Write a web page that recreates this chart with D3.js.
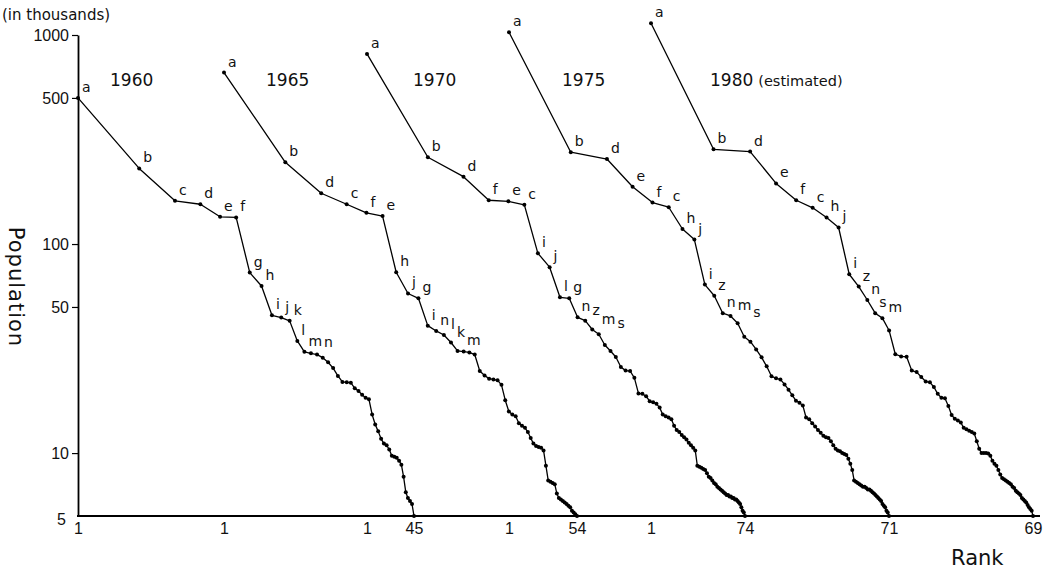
<!DOCTYPE html>
<html lang="en">
<head>
<meta charset="UTF-8">
<title>Rank-size distribution</title>
<style>
  body { margin: 0; background: #fff; }
  svg { font-family: "DejaVu Sans", sans-serif; }
</style>
</head>
<body>
<svg width="1051" height="570"></svg>
<script src="https://d3js.org/d3.v7.min.js"></script>
<script>
// data: population (thousands) by rank, one array per year
const years = ['1960', '1965', '1970', '1975', '1980'];
const counts = [45, 54, 74, 71, 69];

const letters1960 = ['a','b','c','d','e','f','g','h','i','j','k','l','m','n'];
const letters1965 = ['a','b','d','c','f','e','h','j','g','i','n','l','k','m'];
const letters1970 = ['a','b','d','f','e','c','i','j','l','g','n','z','m','s'];
const letters1975 = ['a','b','d','e','f','c','h','j','i','z','n','m','s'];
const letters1980 = ['a','b','d','e','f','c','h','j','i','z','n','s','m'];

const pop1960 = [500, 230, 161, 155, 135, 134, 73, 63, 45.6, 44.5, 42.9, 34.4, 30.5, 30.0,
  29.6, 28.6, 27.2, 25.5, 23.4, 21.9, 21.8, 21.7, 20.4, 19.8, 19.0, 18.4, 18.1, 15.3, 13.7,
  12.7, 11.7, 11.1, 10.9, 10.4, 9.7, 9.6, 9.5, 9.2, 8.8, 7.7, 6.5, 6.1, 5.9, 5.7, 5.0];
const pop1965 = [661, 246, 175, 155, 141, 136, 73.3, 58, 55, 40.7, 38.4, 36.7, 33.8, 30.8,
  30.6, 30.3, 29.6, 24.7, 23.5, 22.7, 22.5, 22.3, 21.2, 17.9,
  15.8, 15.3, 15.0, 13.9, 13.5, 13.2, 12.6, 11.8, 11.1, 10.8,
  10.7, 10.6, 10.3, 8.7, 7.4, 7.3, 7.2, 7.1, 6.4, 6.1,
  6.0, 5.9, 5.8, 5.7, 5.6, 5.5, 5.3, 5.2, 5.1, 5.0];
const pop1970 = [812, 260, 210, 162, 160, 154, 90.3, 77.5, 55.6, 55, 44.6, 43, 39, 37,
  32.9, 30.8, 28.8, 25.8, 24.8, 24.7, 22.9, 19.3, 19.2, 18.7,
  17.7, 17.5, 17.2, 16.5, 15.3, 15.0, 14.8, 14.5, 13.5, 12.9,
  12.6, 12.2, 11.9, 11.6, 11.2, 10.9, 10.6, 10.3, 8.7, 8.6,
  8.5, 8.4, 8.3, 8.0, 7.7, 7.6, 7.4, 7.2, 7.1, 6.9,
  6.8, 6.7, 6.6, 6.5, 6.4, 6.3, 6.3, 6.2, 6.2, 6.1,
  6.1, 6.0, 6.0, 5.9, 5.8, 5.7, 5.5, 5.3, 5.2, 5.0];
const pop1975 = [1031, 275, 255, 188, 158, 150, 118, 105, 64, 56.6, 46.7, 45.3, 41.8, 36,
  34.1, 31.3, 28.7, 26.0, 23.3, 22.8, 22.5, 21.3, 20.1, 18.9,
  17.8, 17.4, 16.9, 14.8, 14.5, 13.9, 13.4, 12.9, 12.5, 12.1,
  11.9, 11.8, 11.4, 10.9, 10.5, 10.3, 10.2, 10.0, 9.9, 9.8,
  9.4, 8.9, 8.3, 7.4, 7.3, 7.2, 7.1, 7.0, 6.9, 6.9,
  6.8, 6.7, 6.7, 6.6, 6.5, 6.4, 6.3, 6.2, 6.1, 6.0,
  5.9, 5.7, 5.6, 5.5, 5.3, 5.2, 5.0];
const pop1980 = [1138, 284, 277, 195, 162, 149, 134, 120, 71.7, 62.6, 54, 46.7, 44.2,
  38.6, 29.7, 29.0, 28.9, 24.8, 24.4, 23.1, 22.0, 21.8, 20.7,
  19.2, 18.4, 18.3, 16.8, 15.2, 14.6, 14.3, 14.0, 13.2, 13.0,
  12.8, 12.6, 12.4, 11.4, 10.5, 10.0, 10.0, 10.0, 9.95, 9.7,
  9.2, 8.9, 8.7, 8.3, 7.9, 7.6, 7.5, 7.4, 7.3, 7.2,
  7.1, 6.9, 6.8, 6.6, 6.5, 6.4, 6.3, 6.1, 6.0, 5.9,
  5.8, 5.65, 5.5, 5.4, 5.3, 5.0];

const yTicks = [5, 10, 50, 100, 500, 1000];

const series = [
  { year: years[0], n: counts[0], letters: letters1960, values: pop1960 },
  { year: years[1], n: counts[1], letters: letters1965, values: pop1965 },
  { year: years[2], n: counts[2], letters: letters1970, values: pop1970 },
  { year: years[3], n: counts[3], letters: letters1975, values: pop1975 },
  { year: years[4], n: counts[4], letters: letters1980, values: pop1980, note: '(estimated)' }
];

// layout: each year gets its own log rank axis, shifted to the right
const panelLeft = [78, 224, 367, 509, 651];
const panelRight = [414, 577, 745, 889, 1033];
const yearX = [110, 266, 413, 562, 710];

const svg = d3.select('svg');

const y = d3.scaleLog().domain([5, 1000]).range([516, 35]);

// y axis
const yAxis = svg.append('g')
  .attr('transform', 'translate(78,0)')
  .call(d3.axisLeft(y).tickValues(yTicks).tickFormat(d3.format('d')).tickSize(6).tickSizeOuter(0).tickPadding(3));
yAxis.select('.domain').attr('stroke-width', 1.8);
yAxis.selectAll('.tick line').attr('stroke-width', 1.2);
yAxis.selectAll('.tick text').attr('font-size', 16).attr('fill', '#111');
yAxis.selectAll('.tick').filter(d => d === 5).select('line').remove();
yAxis.selectAll('.tick').filter(d => d === 5).select('text').attr('dy', '0.5em').attr('x', -12);

// base line
svg.append('line')
  .attr('x1', 77).attr('x2', 1040)
  .attr('y1', 516).attr('y2', 516)
  .attr('stroke', '#000').attr('stroke-width', 1.8);

series.forEach((s, k) => {
  const x = d3.scaleLog().domain([1, s.n]).range([panelLeft[k], panelRight[k]]);

  const ax = svg.append('g')
    .attr('transform', 'translate(0,516)')
    .call(d3.axisBottom(x).tickValues([1, s.n]).tickFormat(d3.format('d')).tickSize(0).tickPadding(7));
  ax.select('.domain').remove();
  ax.selectAll('.tick text').attr('font-size', 16).attr('fill', '#111');

  const line = d3.line()
    .x((d, i) => x(i + 1))
    .y(d => y(d));

  svg.append('path')
    .datum(s.values)
    .attr('fill', 'none')
    .attr('stroke', '#000')
    .attr('stroke-width', 1.3)
    .attr('stroke-linejoin', 'round')
    .attr('d', line);

  svg.append('g')
    .selectAll('circle')
    .data(s.values)
    .join('circle')
    .attr('cx', (d, i) => x(i + 1))
    .attr('cy', d => y(d))
    .attr('r', 2)
    .attr('fill', '#000');

  // city letters, pushed right when they would collide with the previous one
  const labels = svg.append('g')
    .selectAll('text')
    .data(s.letters)
    .join('text')
    .attr('x', (d, i) => x(i + 1) + 4)
    .attr('y', (d, i) => y(s.values[i]) - 6)
    .attr('font-size', 14)
    .attr('fill', '#111')
    .text(d => d);

  let prevRight = -Infinity, prevY = -Infinity;
  labels.each(function () {
    const el = d3.select(this);
    let lx = +el.attr('x');
    const ly = +el.attr('y');
    if (Math.abs(ly - prevY) < 12 && lx < prevRight + 2) {
      lx = prevRight + 2;
      el.attr('x', lx);
    }
    prevRight = lx + this.getComputedTextLength();
    prevY = ly;
  });

  const t = svg.append('text')
    .attr('x', yearX[k])
    .attr('y', 86)
    .attr('font-size', 17)
    .attr('fill', '#111')
    .text(s.year);
  if (s.note) {
    t.append('tspan').attr('font-size', 14.5).attr('dx', 5).text(s.note);
  }
});

// axis titles
svg.append('text')
  .attr('x', 2).attr('y', 20)
  .attr('font-size', 15)
  .attr('fill', '#111')
  .text('(in thousands)');

svg.append('text')
  .attr('transform', 'translate(9,287) rotate(90)')
  .attr('text-anchor', 'middle')
  .attr('font-size', 21)
  .attr('letter-spacing', 1)
  .attr('fill', '#111')
  .text('Population');

svg.append('text')
  .attr('x', 951).attr('y', 565)
  .attr('font-size', 21)
  .attr('fill', '#111')
  .text('Rank');
</script>
</body>
</html>
